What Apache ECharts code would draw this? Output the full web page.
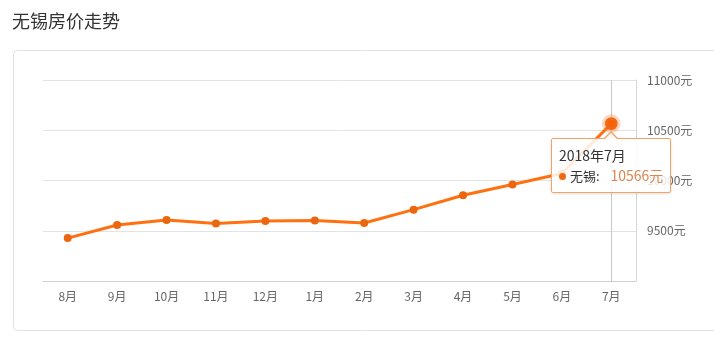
<!DOCTYPE html>
<html>
<head>
<meta charset="utf-8">
<script src="https://cdn.jsdelivr.net/npm/echarts@6/dist/echarts.min.js"></script>
<style>
html,body{margin:0;padding:0;background:#fff;}
#c{width:714px;height:340px;}
.tt::before{content:"";position:absolute;left:50%;top:-8px;margin-left:-8px;width:0;height:0;border-left:8px solid transparent;border-right:8px solid transparent;border-bottom:8px solid #f2a468;}
.tt::after{content:"";position:absolute;left:50%;top:-6.5px;margin-left:-7px;width:0;height:0;border-left:7px solid transparent;border-right:7px solid transparent;border-bottom:7px solid rgba(255,255,255,0.95);}
</style>
</head>
<body>
<div id="c"></div>
<script>
const titleText = '无锡房价走势';
const categories = ['8月','9月','10月','11月','12月','1月','2月','3月','4月','5月','6月','7月'];
const fullDates = ['2017年8月','2017年9月','2017年10月','2017年11月','2017年12月','2018年1月','2018年2月','2018年3月','2018年4月','2018年5月','2018年6月','2018年7月'];
const seriesName = '无锡';
const prices = [9427, 9557, 9607, 9573, 9597, 9603, 9577, 9710, 9853, 9960, 10070, 10566];
const yMin = 9000, yMax = 11000, yStep = 500;
const unit = '元';
const focusIndex = 11;

const FONT = '"Noto Sans CJK SC", "Microsoft YaHei", sans-serif';
const chart = echarts.init(document.getElementById('c'), null, {renderer: 'canvas'});
chart.setOption({
  animation: false,
  textStyle: {fontFamily: FONT},
  title: {
    text: titleText, left: 12, top: 12, padding: 0,
    textStyle: {fontSize: 18, fontWeight: 'normal', color: '#333', fontFamily: FONT}
  },
  graphic: [{
    type: 'rect', z: -10, silent: true,
    shape: {x: 13.5, y: 50.5, width: 740, height: 280, r: 4},
    style: {fill: '#fff', stroke: '#e2e2e2', lineWidth: 1}
  }],
  grid: {left: 43, right: 78, top: 80, bottom: 59},
  tooltip: {
    trigger: 'item',
    triggerOn: 'none',
    alwaysShowContent: true,
    position: 'bottom',
    className: 'tt',
    backgroundColor: 'rgba(255,255,255,0.85)',
    borderColor: '#f2a468',
    borderWidth: 1,
    padding: [6, 7, 6, 7],
    extraCssText: 'box-shadow:0 1px 3px rgba(0,0,0,0.12);border-radius:2px;line-height:20px;',
    textStyle: {color: '#333', fontSize: 12, fontFamily: FONT},
    formatter: function (p) {
      return '<div style="font-size:14px">' + fullDates[p.dataIndex] + '</div>' +
        '<div style="white-space:nowrap"><span style="display:inline-block;width:7px;height:7px;border-radius:50%;background:#f0690f;margin-right:4px;vertical-align:middle;position:relative;top:-1px"></span>' +
        '<span style="font-size:13px">' + seriesName + ':</span>&nbsp;&nbsp;&nbsp;&nbsp;<span style="color:#dd8650;font-size:14px">' + p.value + unit + '</span></div>';
    }
  },
  xAxis: {
    type: 'category',
    data: categories,
    boundaryGap: true,
    axisLine: {lineStyle: {color: '#d0d0d0', width: 1}},
    axisTick: {alignWithLabel: true, length: 4, lineStyle: {color: '#d0d0d0'}},
    axisLabel: {color: '#666', fontSize: 12, margin: 9, fontFamily: FONT},
    splitLine: {show: false}
  },
  yAxis: {
    type: 'value',
    position: 'right',
    min: yMin, max: yMax, interval: yStep,
    axisLine: {show: true, lineStyle: {color: '#d6d6d6'}},
    axisTick: {show: false},
    axisLabel: {
      color: '#666', fontSize: 12, margin: 11, fontFamily: FONT,
      showMinLabel: false,
      formatter: function (v) { return v + unit; }
    },
    splitLine: {lineStyle: {color: '#e3e3e3'}}
  },
  series: [{
    name: seriesName,
    type: 'line',
    data: prices,
    symbol: 'circle',
    symbolSize: 8,
    showSymbol: true,
    lineStyle: {color: '#eb670f', width: 3},
    itemStyle: {color: '#eb670f'},
    emphasis: {
      scale: 1.6,
      itemStyle: {color: '#f3620a', borderColor: 'rgba(245,120,40,0.3)', borderWidth: 6}
    },
    markLine: {
      silent: true,
      symbol: 'none',
      label: {show: false},
      lineStyle: {color: '#c8c8c8', width: 1, type: 'solid'},
      data: [{xAxis: categories[focusIndex]}],
      z: 1
    }
  }]
});
chart.dispatchAction({type: 'highlight', seriesIndex: 0, dataIndex: focusIndex});
chart.dispatchAction({type: 'showTip', seriesIndex: 0, dataIndex: focusIndex});
</script>
</body>
</html>
